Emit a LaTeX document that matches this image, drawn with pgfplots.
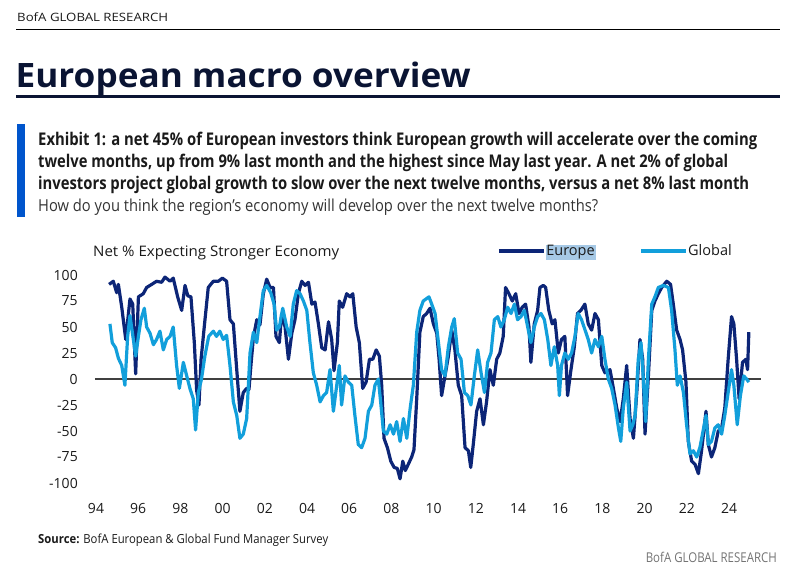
\documentclass[border=0pt]{standalone}
\usepackage{graphicx}
\usepackage{pgfplots}
\pgfplotsset{compat=1.18}
\usepackage{fontspec}
\setmainfont{Open Sans}
\definecolor{eunavy}{HTML}{0C2577}
\definecolor{glblue}{HTML}{129FDB}
\definecolor{titlec}{HTML}{0A1433}
\definecolor{barblue}{HTML}{0055CC}
\definecolor{hl}{HTML}{A6C9E6}
\definecolor{txt}{HTML}{1A1A1A}
\setlength{\fboxsep}{0.8pt}
\begin{document}
\begin{tikzpicture}
\path[use as bounding box] (0,0) rectangle (795pt,-574pt);
% header
\node[anchor=base west, inner sep=0pt, text=txt] at (17pt,-21.7pt)
  {\resizebox{151pt}{\height}{\fontsize{11.5}{13}\selectfont BofA GLOBAL RESEARCH}};
\draw[black, line width=1pt] (16pt,-29.3pt) -- (780pt,-29.3pt);
\node[anchor=base west, inner sep=0pt, text=titlec] at (15.5pt,-87pt)
  {\resizebox{455pt}{\height}{\fontsize{33.6}{40}\selectfont\bfseries European macro overview}};
\draw[titlec, line width=2.6pt] (16pt,-96.7pt) -- (780pt,-96.7pt);
% exhibit block
\fill[barblue] (17pt,-124pt) rectangle (25pt,-217pt);
\node[anchor=base west, inner sep=0pt, text=txt] at (38pt,-145pt)
  {\resizebox{719pt}{\height}{\fontsize{17.5}{21}\selectfont\bfseries Exhibit 1: a net 45\% of European investors think European growth will accelerate over the coming}};
\node[anchor=base west, inner sep=0pt, text=txt] at (38pt,-167pt)
  {\resizebox{690pt}{\height}{\fontsize{17.5}{21}\selectfont\bfseries twelve months, up from 9\% last month and the highest since May last year. A net 2\% of global}};
\node[anchor=base west, inner sep=0pt, text=txt] at (38pt,-189pt)
  {\resizebox{711pt}{\height}{\fontsize{17.5}{21}\selectfont\bfseries investors project global growth to slow over the next twelve months, versus a net 8\% last month}};
\node[anchor=base west, inner sep=0pt, text=black!80] at (38pt,-211pt)
  {\resizebox{560pt}{\height}{\fontsize{16.5}{20}\selectfont How do you think the region's economy will develop over the next twelve months?}};
% chart header
\node[anchor=base west, inner sep=0pt, text=txt] at (93pt,-256pt)
  {\resizebox{246pt}{\height}{\fontsize{14.5}{17}\selectfont Net \% Expecting Stronger Economy}};
% footer
\node[anchor=base west, inner sep=0pt, text=txt] at (38pt,-543.5pt)
  {\resizebox{290pt}{\height}{\fontsize{12.5}{15}\selectfont\textbf{Source:} BofA European \& Global Fund Manager Survey}};
\node[anchor=base east, inner sep=0pt, text=black!55] at (777pt,-562pt)
  {\resizebox{131pt}{\height}{\fontsize{13.5}{16}\selectfont BofA GLOBAL RESEARCH}};

\begin{axis}[
  at={(85.45pt,-483pt)}, anchor=south west,
  width=675.2pt, height=208pt, scale only axis,
  xmin=1993.5, xmax=2025.5, ymin=-100, ymax=100,
  clip=false,
  axis line style={draw=none},
  major tick length=0pt,
  xtick={1994,1996,...,2024},
  xticklabels={94,96,98,00,02,04,06,08,10,12,14,16,18,20,22,24},
  ytick={-100,-75,-50,-25,0,25,50,75,100},
  yticklabels={-100,-75,-50,-25,0,25,50,75,100},
  tick label style={font=\fontsize{14}{16}\selectfont, text=txt},
  yticklabel style={anchor=east, inner sep=0pt, xshift=-7.5pt},
  xticklabel style={anchor=north, inner sep=0pt, yshift=-20pt},
  legend columns=2,
  legend style={at={(0.6095,1.1154)}, anchor=west, draw=none, fill=none,
    inner sep=0pt, outer sep=0pt, font=\fontsize{14.5}{17}\selectfont,
    nodes={inner sep=0pt, text=txt},
    /tikz/every even column/.append style={column sep=44pt}},
  legend image code/.code={\draw[#1, line width=3.6pt] (0pt,0pt) -- (45pt,0pt);},
]
\draw[black!75, line width=1.2pt] (axis cs:1993.95,0) -- (axis cs:2025.5,0);
\addplot[eunavy, line width=3.2pt, line join=round] coordinates {
(1994.62,91) (1994.82,94) (1994.98,83) (1995.06,91) (1995.22,69) (1995.41,38)
(1995.61,77) (1995.74,72) (1995.88,5) (1996.01,79) (1996.24,82) (1996.40,88)
(1996.64,91) (1996.87,94) (1997.11,93) (1997.27,98) (1997.51,94) (1997.66,97)
(1997.87,79) (1998.06,66) (1998.22,90) (1998.35,80) (1998.50,79) (1998.66,35)
(1998.77,-11) (1998.88,-25) (1998.98,19) (1999.13,50) (1999.32,88) (1999.56,94)
(1999.80,94) (1999.99,97) (2000.19,94) (2000.35,57) (2000.51,53) (2000.67,9)
(2000.82,-31) (2000.98,-13) (2001.14,-9) (2001.25,-10) (2001.35,15) (2001.46,40)
(2001.62,57) (2001.77,52) (2001.93,82) (2002.09,96) (2002.25,88) (2002.41,88)
(2002.53,41) (2002.69,35) (2002.80,63) (2002.96,50) (2003.12,19) (2003.28,44)
(2003.43,57) (2003.59,82) (2003.75,94) (2003.91,90) (2004.07,93) (2004.23,72)
(2004.38,74) (2004.54,53) (2004.70,30) (2004.86,28) (2005.02,55) (2005.17,38)
(2005.28,8) (2005.44,35) (2005.53,75) (2005.69,69) (2005.88,82) (2006.04,79)
(2006.17,82) (2006.33,50) (2006.48,35) (2006.64,-9) (2006.80,-3) (2006.96,19)
(2007.12,19) (2007.28,28) (2007.43,22) (2007.54,-6) (2007.65,-57) (2007.81,-66)
(2007.97,-79) (2008.13,-85) (2008.28,-86) (2008.41,-96) (2008.54,-79) (2008.66,-88)
(2008.80,-82) (2008.96,-75) (2009.07,-68) (2009.20,-19) (2009.35,45) (2009.51,60)
(2009.67,63) (2009.83,68) (2009.99,53) (2010.15,44) (2010.26,19) (2010.38,-16)
(2010.54,3) (2010.70,22) (2010.86,47) (2011.01,28) (2011.17,-6) (2011.33,-16)
(2011.49,-66) (2011.65,-69) (2011.76,-85) (2011.88,-63) (2012.04,-31) (2012.20,-19)
(2012.36,-44) (2012.51,-22) (2012.67,9) (2012.83,-6) (2012.99,19) (2013.14,25)
(2013.30,41) (2013.41,88) (2013.57,82) (2013.73,75) (2013.89,82) (2014.05,63)
(2014.20,69) (2014.36,72) (2014.52,50) (2014.61,16) (2014.77,53) (2014.93,66)
(2015.04,88) (2015.20,90) (2015.31,88) (2015.46,66) (2015.62,53) (2015.75,57)
(2015.91,25) (2016.06,38) (2016.22,41) (2016.35,-16) (2016.51,9) (2016.67,31)
(2016.82,63) (2016.98,66) (2017.17,72) (2017.33,53) (2017.49,47) (2017.65,63)
(2017.81,57) (2017.97,13) (2018.12,6) (2018.36,9) (2018.52,-9) (2018.68,-28)
(2018.84,-41) (2018.99,-19) (2019.15,13) (2019.31,-38) (2019.47,-57) (2019.63,-13)
(2019.78,38) (2019.91,19) (2020.02,-53) (2020.18,3) (2020.34,66) (2020.49,75)
(2020.65,82) (2020.81,88) (2021.05,94) (2021.23,91) (2021.36,72) (2021.52,47)
(2021.68,38) (2021.80,28) (2021.96,-3) (2022.07,-60) (2022.23,-79) (2022.39,-82)
(2022.55,-91) (2022.70,-69) (2022.91,-31) (2023.02,-63) (2023.17,-75) (2023.33,-66)
(2023.49,-50) (2023.65,-47) (2023.80,-28) (2023.96,19) (2024.12,60) (2024.23,53)
(2024.36,19) (2024.48,-19) (2024.64,16) (2024.80,19) (2024.88,9) (2024.94,45)
};
\addlegendentry{\colorbox{hl}{Europe}}
\addplot[glblue, line width=3.2pt, line join=round] coordinates {
(1994.66,53) (1994.77,35) (1994.93,30) (1995.06,20) (1995.22,13) (1995.37,-6)
(1995.50,41) (1995.61,61) (1995.77,38) (1995.88,22) (1996.01,41) (1996.13,57)
(1996.29,68) (1996.40,50) (1996.56,44) (1996.72,33) (1996.87,38) (1997.03,46)
(1997.19,28) (1997.35,38) (1997.51,41) (1997.66,50) (1997.82,13) (1997.95,-9)
(1998.14,16) (1998.30,3) (1998.45,-9) (1998.61,-19) (1998.72,-49) (1998.85,-13)
(1999.00,0) (1999.16,22) (1999.34,41) (1999.56,46) (1999.71,41) (1999.87,46)
(2000.03,38) (2000.19,42) (2000.35,13) (2000.51,-22) (2000.67,-35) (2000.82,-57)
(2000.98,-53) (2001.14,-38) (2001.30,25) (2001.46,45) (2001.62,35) (2001.77,60)
(2001.93,85) (2002.09,90) (2002.28,83) (2002.44,72) (2002.56,47) (2002.69,50)
(2002.85,68) (2003.04,50) (2003.20,41) (2003.35,72) (2003.51,85) (2003.67,82)
(2003.83,75) (2003.99,66) (2004.14,35) (2004.30,6) (2004.46,-6) (2004.62,-22)
(2004.78,-16) (2004.93,-13) (2005.09,9) (2005.25,-31) (2005.41,-6) (2005.53,13)
(2005.64,-25) (2005.80,3) (2005.96,-3) (2006.12,-6) (2006.27,-35) (2006.43,-63)
(2006.59,-66) (2006.75,-57) (2006.91,-31) (2007.07,-25) (2007.22,-6) (2007.38,0)
(2007.49,-22) (2007.62,-50) (2007.78,-53) (2007.94,-44) (2008.10,-53) (2008.25,-41)
(2008.41,-60) (2008.57,-38) (2008.73,-57) (2008.89,-28) (2009.04,-6) (2009.20,45)
(2009.35,66) (2009.51,75) (2009.78,79) (2009.91,72) (2010.07,63) (2010.23,35)
(2010.38,9) (2010.54,3) (2010.70,31) (2010.86,50) (2010.98,58) (2011.14,25)
(2011.30,19) (2011.46,-13) (2011.62,-16) (2011.77,-25) (2011.93,3) (2012.09,28)
(2012.25,6) (2012.41,-13) (2012.56,16) (2012.72,25) (2012.88,57) (2013.04,60)
(2013.19,50) (2013.35,57) (2013.51,69) (2013.67,63) (2013.83,72) (2013.98,57)
(2014.14,60) (2014.30,66) (2014.46,50) (2014.61,35) (2014.77,50) (2014.93,60)
(2015.09,63) (2015.25,57) (2015.41,38) (2015.56,13) (2015.72,31) (2015.88,13)
(2015.96,-16) (2016.06,13) (2016.22,25) (2016.38,19) (2016.54,25) (2016.70,41)
(2016.85,63) (2017.01,57) (2017.18,47) (2017.33,38) (2017.49,25) (2017.65,38)
(2017.81,31) (2017.97,41) (2018.12,19) (2018.28,0) (2018.44,-9) (2018.60,-25)
(2018.76,-47) (2018.87,-60) (2018.99,-28) (2019.15,-3) (2019.31,-50) (2019.44,-44)
(2019.55,-35) (2019.70,19) (2019.83,35) (2019.94,0) (2020.05,-41) (2020.18,19)
(2020.34,72) (2020.49,79) (2020.65,88) (2020.89,90) (2021.13,88) (2021.28,66)
(2021.44,28) (2021.55,-6) (2021.68,3) (2021.84,-13) (2021.99,-44) (2022.15,-72)
(2022.31,-69) (2022.47,-75) (2022.62,-66) (2022.91,-35) (2023.02,-63) (2023.17,-60)
(2023.33,-47) (2023.49,-44) (2023.65,-53) (2023.80,-35) (2023.96,-13) (2024.12,9)
(2024.23,-6) (2024.39,-44) (2024.54,-16) (2024.70,3) (2024.83,0) (2024.94,-3)
};
\addlegendentry{Global}
\end{axis}
\end{tikzpicture}
\end{document}
